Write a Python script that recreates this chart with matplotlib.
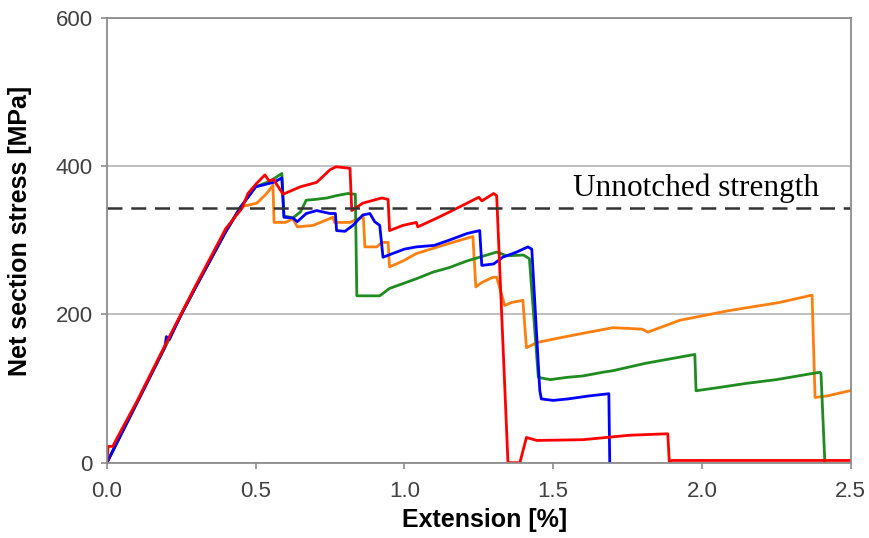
import numpy as np
import matplotlib
matplotlib.use('Agg')
import matplotlib.pyplot as plt

# Extension [%] and net section stress [MPa]
rise_x = [0.0, 0.05, 0.10, 0.15, 0.20, 0.25, 0.30, 0.35, 0.40, 0.45]
rise_y = [0, 40, 80, 120, 160, 200, 238, 275, 312, 345]

blue_x = [0.0, 0.05, 0.10, 0.15, 0.195, 0.20, 0.21, 0.25, 0.30, 0.35, 0.40, 0.45,
          0.5, 0.56, 0.588, 0.595, 0.625, 0.64, 0.67, 0.705, 0.75, 0.768, 0.772,
          0.80, 0.827, 0.86, 0.884, 0.90, 0.917, 0.928, 0.96, 1.0, 1.04, 1.10, 1.15, 1.21,
          1.253, 1.26, 1.30, 1.33, 1.377, 1.415, 1.428, 1.455, 1.46, 1.50, 1.55, 1.62, 1.687,
          1.69]
blue_y = [0, 40, 80, 120, 156, 170, 166, 200, 238, 275, 312, 345,
          372, 378, 384, 331, 330, 325, 336, 340, 336, 336, 313,
          312, 320, 334, 336, 325, 320, 277, 282, 288, 291, 293, 300, 309,
          313, 266, 268, 277, 284, 291, 288, 97, 86, 84, 86, 90, 93,
          0]

green_x = rise_x + [0.50, 0.55, 0.588, 0.595, 0.625, 0.65, 0.67, 0.70, 0.74, 0.77, 0.81, 0.835, 0.84,
                    0.917, 0.95, 1.04, 1.096, 1.15, 1.21, 1.31, 1.344, 1.40, 1.42, 1.45, 1.49, 1.545,
                    1.60, 1.667, 1.70, 1.81, 1.976, 1.98, 2.05, 2.15, 2.25, 2.396, 2.40, 2.413]
green_y = rise_y + [372, 380, 390, 333, 330, 338, 354, 355, 357, 360, 363, 362, 225,
                    225, 235, 248, 257, 263, 272, 284, 279, 280, 275, 115, 112, 115,
                    117, 122, 124, 134, 146, 97, 101, 107, 112, 122, 120, 0]

orange_x = rise_x + [0.504, 0.537, 0.558, 0.562, 0.60, 0.625, 0.64, 0.693, 0.76, 0.765, 0.817, 0.845,
                     0.862, 0.867, 0.907, 0.924, 0.945, 0.95, 0.995, 1.04, 1.096, 1.153, 1.23, 1.24,
                     1.26, 1.297, 1.31, 1.337, 1.36, 1.398, 1.41, 1.445, 1.53, 1.62, 1.70, 1.757,
                     1.80, 1.818, 1.925, 2.09, 2.26, 2.37, 2.38, 2.42, 2.497]
orange_y = rise_y + [350, 363, 374, 324, 324, 329, 318, 320, 331, 324, 324, 329,
                     331, 291, 291, 297, 297, 264, 272, 282, 289, 296, 305, 237,
                     243, 250, 250, 212, 216, 219, 155, 162, 169, 176, 182, 181,
                     180, 176, 192, 205, 216, 226, 88, 90, 97]

red_x = [0.0, 0.004, 0.02, 0.03, 0.05, 0.10, 0.20, 0.30, 0.40, 0.454, 0.474, 0.504, 0.531, 0.545,
         0.56, 0.592, 0.65, 0.705, 0.75, 0.77, 0.817, 0.823, 0.86, 0.924, 0.945, 0.95, 0.995,
         1.04, 1.045, 1.11, 1.176, 1.25, 1.26, 1.30, 1.31, 1.348, 1.388, 1.41, 1.445, 1.60,
         1.757, 1.885, 1.89, 1.90, 2.5]
red_y = [0, 22, 22, 30, 45, 82, 162, 240, 316, 343, 363, 377, 388, 380,
         382, 362, 372, 378, 395, 399, 397, 340, 350, 357, 355, 313, 320,
         324, 318, 330, 343, 358, 353, 363, 360, 0, 0, 34, 30, 31,
         37, 39, 2, 3, 3]

ticks_x = [0.0, 0.5, 1.0, 1.5, 2.0, 2.5]
ticks_y = [0, 200, 400, 600]
unnotched = 343

fig = plt.figure(figsize=(8.69, 5.38), dpi=100)
ax = fig.add_axes([0.123, 0.14, 0.856, 0.827])

lw = 2.0
ax.plot(rise_x, rise_y, color='black', lw=lw)
ax.plot(orange_x, orange_y, color='#ff7f0e', lw=lw)
ax.plot(green_x, green_y, color='#1e8c1e', lw=lw)
ax.plot(blue_x, blue_y, color='#0000ff', lw=lw)
ax.plot(red_x, red_y, color='#ff0000', lw=lw)

ax.axhline(unnotched, color='#333333', lw=1.8, ls=(0, (6, 3.5)))
ax.text(1.565, 370, 'Unnotched strength', family='Liberation Serif', fontsize=22.5,
        va='center', ha='left', color='black')

ax.set_xlim(0, 2.5)
ax.set_ylim(0, 600)
ax.set_xticks(ticks_x)
ax.set_xticklabels(['%.1f' % t for t in ticks_x])
ax.set_yticks(ticks_y)
ax.yaxis.grid(True, color='#b4b4b4', lw=1.2)
ax.set_axisbelow(True)

for s in ax.spines.values():
    s.set_color('#8c8c8c')
    s.set_linewidth(1.3)
ax.tick_params(direction='out', length=4, color='#8c8c8c', width=1.2,
               labelsize=16, labelcolor='#404040', pad=6)
ax.tick_params(axis='x', pad=9)
for lab in ax.get_xticklabels() + ax.get_yticklabels():
    lab.set_family('Liberation Sans')

ax.set_xlabel('Extension [%]', family='Liberation Sans', fontsize=18,
              fontweight='bold')
ax.set_ylabel('Net section stress [MPa]', family='Liberation Sans', fontsize=18,
              fontweight='bold')
ax.xaxis.set_label_coords(0.508, -0.102)
ax.yaxis.set_label_coords(-0.101, 0.52)

fig.savefig('out.png', dpi=100)
